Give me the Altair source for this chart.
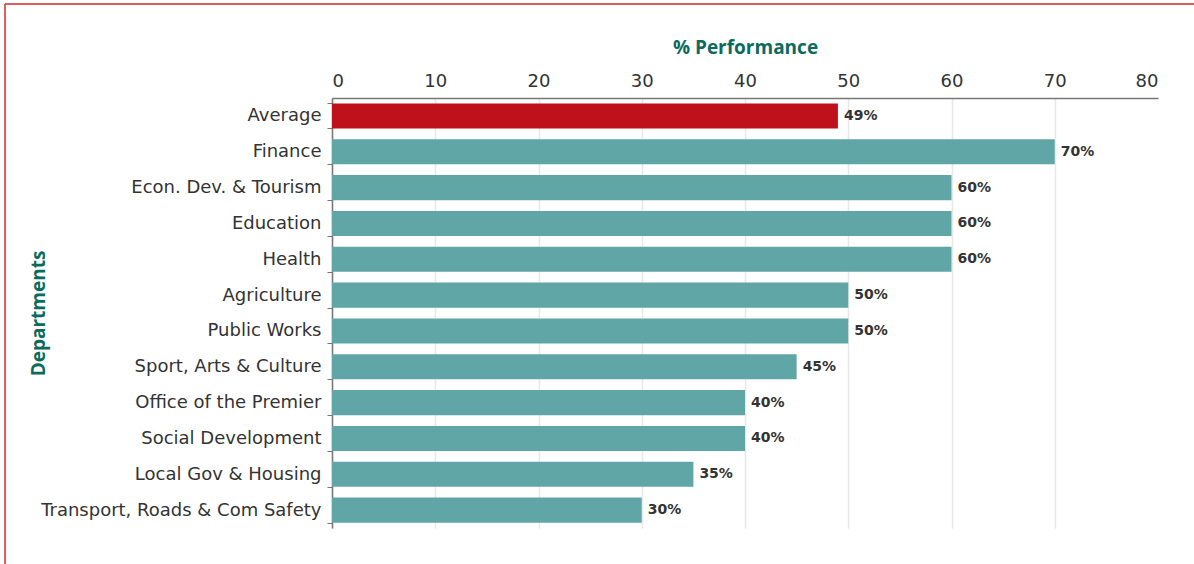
import altair as alt
import pandas as pd

departments = [
    "Average", "Finance", "Econ. Dev. & Tourism", "Education", "Health",
    "Agriculture", "Public Works", "Sport, Arts & Culture", "Office of the Premier",
    "Social Development", "Local Gov & Housing", "Transport, Roads & Com Safety",
]
performance = [49, 70, 60, 60, 60, 50, 50, 45, 40, 40, 35, 30]
kind = ["avg"] + ["dept"] * 11

df = pd.DataFrame({"dept": departments, "perf": performance, "kind": kind})
df["label"] = df["perf"].astype(str) + "%"

W, H = 826, 430
TEAL_TITLE = "#0b6b5e"
TITLE_FONT = "Open Sans"

y_enc = alt.Y(
    "dept:N", sort=departments, scale=alt.Scale(paddingInner=0.3, paddingOuter=0.15),
    axis=alt.Axis(
        title="Departments", titleFont=TITLE_FONT, titleFontSize=19, titleFontWeight=700,
        titleColor=TEAL_TITLE, titleX=-294, titleY=H / 2, titleAngle=-90,
        titleAlign="center", titleBaseline="middle",
        labelFont="DejaVu Sans", labelFontSize=18, labelColor="#333333", labelPadding=6,
        labelLimit=0,
        tickBand="extent", tickSize=5, tickColor="#777777", domainColor="#777777",
        domainWidth=1.5, grid=False,
    ),
)

bars = alt.Chart(df).mark_bar().encode(
    x=alt.X(
        "perf:Q", scale=alt.Scale(domain=[0, 80], nice=False),
        axis=alt.Axis(
            orient="top", values=list(range(0, 90, 10)), title="% Performance",
            titleFont=TITLE_FONT, titleFontSize=19, titleFontWeight=700, titleColor=TEAL_TITLE,
            titleY=-51, titleBaseline="middle",
            labelFont="DejaVu Sans", labelFontSize=18, labelColor="#333333", labelPadding=8,
            tickSize=0, domainColor="#777777", domainWidth=1.5,
            grid=True, gridWidth=1.5,
            gridColor={"condition": {"test": "datum.value >= 80", "value": "#ffffff"}, "value": "#e8e8e8"},
        ),
    ),
    y=y_enc,
    color=alt.Color("kind:N", scale=alt.Scale(domain=["avg", "dept"], range=["#be111b", "#60a6a6"]), legend=None),
)

text = alt.Chart(df).mark_text(
    align="left", baseline="middle", dx=6, font="DejaVu Sans", fontSize=14,
    fontWeight="bold", color="#333333",
).encode(x="perf:Q", y=alt.Y("dept:N", sort=departments), text="label:N")

frame_df = pd.DataFrame({"k": [0]})
top_line = alt.Chart(frame_df).mark_rule(color="#d9262e", strokeWidth=1.5, clip=False).encode(
    x=alt.value(-327), x2=alt.value(W + 40), y=alt.value(-94)
)
left_line = alt.Chart(frame_df).mark_rule(color="#d9262e", strokeWidth=1.5, clip=False).encode(
    x=alt.value(-327), y=alt.value(-94), y2=alt.value(H + 40)
)

chart = alt.layer(bars, text, top_line, left_line).properties(
    width=W, height=H,
    autosize=alt.AutoSizeParams(type="none"),
    padding={"left": 332, "top": 98, "right": 36, "bottom": 36},
).configure(background="white").configure_view(stroke=None)

chart.save("out.html", embed_options={"renderer": "svg", "actions": False})
